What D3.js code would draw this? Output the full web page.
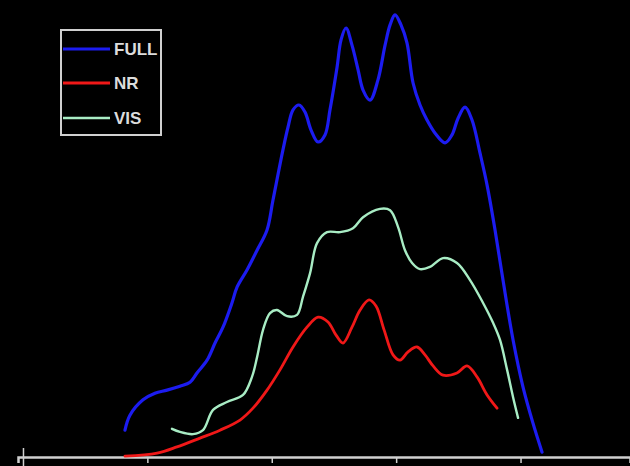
<!DOCTYPE html>
<html>
<head>
<meta charset="utf-8">
<script src="https://cdn.jsdelivr.net/npm/d3@7/dist/d3.min.js"></script>
<style>
  html, body { margin: 0; padding: 0; background: #000; }
  svg { display: block; }
</style>
</head>
<body>
<svg id="chart" width="630" height="466"></svg>
<script>
// Spectral response curves: [wavelength, response]
const fullSeries = [
  [382.0,6.1],[386.0,9.5],[396.5,13.0],[406.1,14.5],[415.8,15.2],[426.2,16.1],[434.3,17.0],
  [439.9,19.1],[448.0,22.0],[454.4,25.9],[460.8,29.5],[468.0,35.0],[472.1,38.6],[480.1,42.5],
  [488.2,47.0],[496.2,51.6],[501.0,58.4],[509.0,69.8],[513.1,75.0],[517.1,78.9],[521.9,80.0],
  [526.7,78.4],[531.6,74.3],[537.2,71.6],[542.8,73.2],[546.8,78.9],[552.5,88.6],[555.7,94.8],
  [559.7,97.5],[564.5,93.6],[569.4,88.0],[573.4,83.4],[579.0,81.1],[585.4,85.7],[591.1,93.6],
  [595.1,98.2],[599.1,100.5],[603.9,98.2],[608.7,94.1],[613.6,85.0],[619.2,80.0],[624.8,76.6],
  [631.3,73.6],[639.3,71.4],[644.9,73.2],[649.8,77.0],[655.4,79.5],[661.0,76.6],[667.4,69.1],
  [673.1,61.8],[679.5,51.6],[685.9,40.2],[694.0,26.6],[702.0,15.9],[710.0,7.7],[717.3,1.1]
];
const nrSeries = [
  [382.0,0.2],[407.8,0.9],[423.8,2.3],[442.3,4.3],[458.4,6.1],[474.5,8.4],[484.9,11.1],
  [496.2,15.2],[506.6,19.8],[517.1,25.0],[528.3,29.5],[537.2,31.8],[545.2,30.7],[551.7,27.7],
  [557.3,25.9],[564.5,29.5],[571.0,33.4],[578.2,35.7],[583.8,34.3],[590.3,28.9],[597.5,23.2],
  [603.1,22.0],[609.6,23.9],[616.8,25.0],[623.2,23.2],[629.7,20.7],[637.7,18.6],[648.9,19.1],
  [657.0,20.7],[665.0,18.2],[673.1,14.1],[681.1,11.1]
];
const visSeries = [
  [419.8,6.4],[426.2,5.7],[436.7,5.2],[444.7,6.1],[452.8,10.7],[464.0,12.5],[476.9,14.1],
  [484.1,18.2],[488.2,22.7],[493.0,28.9],[498.6,32.7],[504.2,33.4],[512.3,32.0],[520.3,32.3],
  [525.1,36.4],[530.8,41.8],[536.4,48.6],[544.4,51.1],[554.9,51.1],[565.3,52.0],[573.4,54.5],
  [587.0,56.4],[595.1,56.1],[601.5,52.3],[607.1,47.0],[612.8,44.1],[619.2,42.7],[627.2,43.2],
  [637.7,45.2],[648.9,44.1],[659.4,40.2],[669.9,35.0],[677.9,30.5],[683.5,26.6],[689.2,19.8],
  [694.0,13.6],[698.0,8.9]
];
const xTicks = [300, 400, 500, 600, 700];
const seriesNames = ["FULL", "NR", "VIS"];
const seriesColors = ["#1c1cf0", "#f01818", "#a8ecc4"];

const svg = d3.select("#chart");
const W = 630, H = 466;
svg.append("rect").attr("width", W).attr("height", H).attr("fill", "#000");

const x = d3.scaleLinear().domain([296, 788]).range([18, 630]);
const y = d3.scaleLinear().domain([0, 100]).range([457, 17]);

// x axis: bare baseline with tick marks, no labels
const axis = svg.append("g").attr("transform", "translate(0,457)")
  .call(d3.axisBottom(x).tickValues(xTicks).tickSize(6).tickFormat(""));
axis.select(".domain").attr("stroke", "#d0d0d0").attr("stroke-width", 2.5);
axis.selectAll(".tick line").attr("stroke", "#d0d0d0").attr("stroke-width", 1.5);
// first tick crosses the baseline
axis.select(".tick line").attr("y1", -9).attr("y2", 9);

const line = d3.line()
  .x(d => x(d[0]))
  .y(d => y(d[1]))
  .curve(d3.curveCatmullRom.alpha(0.5));

const data = [fullSeries, nrSeries, visSeries];
const widths = [3.2, 2.8, 2.4];
data.forEach((s, i) => {
  svg.append("path")
    .datum(s)
    .attr("fill", "none")
    .attr("stroke", seriesColors[i])
    .attr("stroke-width", widths[i])
    .attr("stroke-linejoin", "round")
    .attr("stroke-linecap", "round")
    .attr("d", line);
});

// legend
const lg = svg.append("g");
lg.append("rect").attr("x", 61).attr("y", 30).attr("width", 100).attr("height", 105)
  .attr("fill", "none").attr("stroke", "#d0d0d0").attr("stroke-width", 2);
const rowY = [49, 83, 118];
seriesNames.forEach((name, i) => {
  lg.append("line").attr("x1", 63).attr("x2", 110).attr("y1", rowY[i]).attr("y2", rowY[i])
    .attr("stroke", seriesColors[i]).attr("stroke-width", widths[i]);
  lg.append("text").attr("x", 114).attr("y", rowY[i] + 6)
    .attr("fill", "#dcdcdc")
    .attr("font-family", "Liberation Sans, Arial, sans-serif")
    .attr("font-weight", "bold").attr("font-size", 17)
    .text(name);
});
</script>
</body>
</html>
